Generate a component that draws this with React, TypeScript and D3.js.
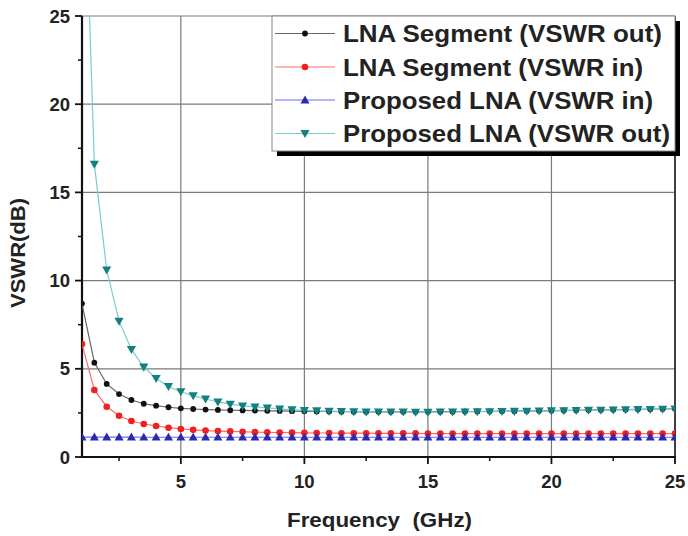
import React from "react";
import * as d3 from "d3";

const freq = [1, 1.5, 2, 2.5, 3, 3.5, 4, 4.5, 5, 5.5, 6, 6.5, 7, 7.5, 8, 8.5, 9, 9.5, 10, 10.5, 11, 11.5, 12, 12.5, 13, 13.5, 14, 14.5, 15, 15.5, 16, 16.5, 17, 17.5, 18, 18.5, 19, 19.5, 20, 20.5, 21, 21.5, 22, 22.5, 23, 23.5, 24, 24.5, 25];

const segOut = [8.7, 5.35, 4.14, 3.57, 3.23, 3.02, 2.91, 2.82, 2.76, 2.72, 2.69, 2.67, 2.65, 2.64, 2.63, 2.62, 2.61, 2.6, 2.59, 2.58, 2.58, 2.57, 2.57, 2.56, 2.56, 2.56, 2.56, 2.56, 2.56, 2.57, 2.57, 2.58, 2.58, 2.59, 2.6, 2.6, 2.61, 2.62, 2.63, 2.64, 2.65, 2.66, 2.67, 2.68, 2.69, 2.7, 2.71, 2.72, 2.73];
const segIn = [6.4, 3.8, 2.85, 2.34, 2.04, 1.87, 1.76, 1.66, 1.59, 1.54, 1.5, 1.47, 1.45, 1.43, 1.41, 1.4, 1.39, 1.38, 1.37, 1.36, 1.36, 1.35, 1.35, 1.35, 1.34, 1.34, 1.34, 1.34, 1.33, 1.33, 1.33, 1.33, 1.33, 1.33, 1.33, 1.33, 1.33, 1.33, 1.33, 1.33, 1.33, 1.33, 1.33, 1.33, 1.33, 1.33, 1.33, 1.33, 1.33];
const propIn = [1.13, 1.13, 1.13, 1.13, 1.13, 1.12, 1.12, 1.12, 1.12, 1.12, 1.12, 1.12, 1.12, 1.12, 1.12, 1.12, 1.12, 1.12, 1.12, 1.12, 1.12, 1.12, 1.12, 1.12, 1.12, 1.12, 1.12, 1.12, 1.12, 1.12, 1.12, 1.12, 1.12, 1.12, 1.12, 1.12, 1.12, 1.12, 1.12, 1.12, 1.12, 1.12, 1.12, 1.12, 1.12, 1.12, 1.12, 1.12, 1.12];
const propOut = [38, 16.6, 10.6, 7.7, 6.1, 5.1, 4.45, 4.0, 3.7, 3.48, 3.29, 3.12, 3.0, 2.9, 2.84, 2.78, 2.73, 2.68, 2.64, 2.62, 2.6, 2.58, 2.57, 2.56, 2.55, 2.55, 2.55, 2.54, 2.54, 2.55, 2.55, 2.56, 2.57, 2.57, 2.58, 2.59, 2.6, 2.61, 2.62, 2.63, 2.64, 2.65, 2.66, 2.67, 2.68, 2.69, 2.7, 2.71, 2.72];

const seriesNames = ["LNA Segment (VSWR out)", "LNA Segment (VSWR in)", "Proposed LNA (VSWR in)", "Proposed LNA (VSWR out)"];
const xTicks = [5, 10, 15, 20, 25];
const xMinor = [2.5, 7.5, 12.5, 17.5, 22.5];
const yTicks = [0, 5, 10, 15, 20, 25];
const yMinor = [2.5, 7.5, 12.5, 17.5, 22.5];

const W = 688, H = 536;
const L = 82, R = 675, T = 16, B = 457;
const FONT = "'Liberation Sans', Arial, sans-serif";

const styles = [
  { line: "#666", fill: "#111", shape: "circle", size: 2.9 },
  { line: "#ff6a6a", fill: "#ee2020", shape: "circle", size: 3.3 },
  { line: "#6a6aff", fill: "#2a2ab0", shape: "up", size: 4.5 },
  { line: "#7ccccc", fill: "#138080", shape: "down", size: 4.6 },
];
const legendTextLen = [319, 300, 310, 327];

function Marker({ x, y, s }: any) {
  if (s.shape === "circle") return <circle cx={x} cy={y} r={s.size} fill={s.fill} />;
  const r = s.size;
  const pts = s.shape === "up"
    ? `${x},${y - r} ${x - r},${y + r * 0.75} ${x + r},${y + r * 0.75}`
    : `${x},${y + r} ${x - r},${y - r * 0.75} ${x + r},${y - r * 0.75}`;
  return <polygon points={pts} fill={s.fill} />;
}

export default function App() {
  const x = d3.scaleLinear().domain([1, 25]).range([L, R]);
  const y = d3.scaleLinear().domain([0, 25]).range([B, T]);
  const data = [segOut, segIn, propIn, propOut];
  const line = d3.line<number>().x((_, i) => x(freq[i])).y((d) => y(d));

  const legX = 272, legY = 16, legW = 403, legH = 135;
  const rowY = [33.5, 67, 100, 133.5];

  return (
    <svg width={W} height={H} style={{ position: "absolute", left: 0, top: 0, background: "#fff" }} fontFamily={FONT}>
      <defs>
        <clipPath id="plot"><rect x={L} y={T} width={R - L} height={B - T} /></clipPath>
      </defs>
      {/* grid */}
      {xTicks.map((t) => <line key={"gx" + t} x1={x(t)} x2={x(t)} y1={T} y2={B} stroke="#7a7a7a" strokeWidth={1.2} />)}
      {yTicks.map((t) => <line key={"gy" + t} x1={L} x2={R} y1={y(t)} y2={y(t)} stroke="#7a7a7a" strokeWidth={1.2} />)}
      {/* frame */}
      <line x1={R} x2={R} y1={T} y2={B} stroke="#333" strokeWidth={1.8} />
      <line x1={L} x2={L} y1={T} y2={B + 1} stroke="#111" strokeWidth={2.2} />
      <line x1={L - 1} x2={R + 1} y1={B} y2={B} stroke="#111" strokeWidth={2.2} />
      {/* ticks */}
      {yTicks.map((t) => <line key={"ty" + t} x1={L - 7} x2={L} y1={y(t)} y2={y(t)} stroke="#111" strokeWidth={1.8} />)}
      {yMinor.map((t) => <line key={"tym" + t} x1={L - 4} x2={L} y1={y(t)} y2={y(t)} stroke="#111" strokeWidth={1.5} />)}
      {xTicks.map((t) => <line key={"tx" + t} x1={x(t)} x2={x(t)} y1={B} y2={B + 7} stroke="#111" strokeWidth={1.8} />)}
      {xMinor.map((t) => <line key={"txm" + t} x1={x(t)} x2={x(t)} y1={B} y2={B + 4} stroke="#111" strokeWidth={1.5} />)}
      {/* tick labels */}
      {yTicks.map((t) => (
        <text key={"ly" + t} x={L - 12} y={y(t)} dy="0.36em" textAnchor="end" fontSize={18.5} fontWeight="bold" fill="#222">{t}</text>
      ))}
      {xTicks.map((t) => (
        <text key={"lx" + t} x={x(t)} y={B + 31} textAnchor="middle" fontSize={18.5} fontWeight="bold" fill="#222">{t}</text>
      ))}
      <text x={287} y={527} fontSize={21} fontWeight="bold" fill="#222" xmlSpace="preserve" textLength={185} lengthAdjust="spacingAndGlyphs">Frequency  (GHz)</text>
      <text transform={`translate(25,${253}) rotate(-90)`} textAnchor="middle" fontSize={21} fontWeight="bold" fill="#222" textLength={110} lengthAdjust="spacingAndGlyphs">VSWR(dB)</text>
      {/* series */}
      <g clipPath="url(#plot)">
        {data.map((d, k) => (
          <path key={"p" + k} d={line(d) || ""} fill="none" stroke={styles[k].line} strokeWidth={1.2} />
        ))}
        {data.map((d, k) => (
          <g key={"m" + k}>
            {d.map((v, i) => <Marker key={i} x={x(freq[i])} y={y(v)} s={styles[k]} />)}
          </g>
        ))}
      </g>
      {/* legend */}
      <rect x={legX + 5} y={legY + 5} width={legW} height={legH} fill="#000" />
      <rect x={legX} y={legY} width={legW} height={legH} fill="#fff" stroke="#888" strokeWidth={1} />
      {seriesNames.map((n, k) => (
        <g key={"lg" + k}>
          <line x1={275} x2={335} y1={rowY[k]} y2={rowY[k]} stroke={styles[k].line} strokeWidth={1.2} />
          <Marker x={305} y={rowY[k]} s={styles[k]} />
          <text x={343} y={rowY[k]} dy="0.36em" fontSize={24} fontWeight="bold" fill="#222" textLength={legendTextLen[k]} lengthAdjust="spacingAndGlyphs">{n}</text>
        </g>
      ))}
    </svg>
  );
}
